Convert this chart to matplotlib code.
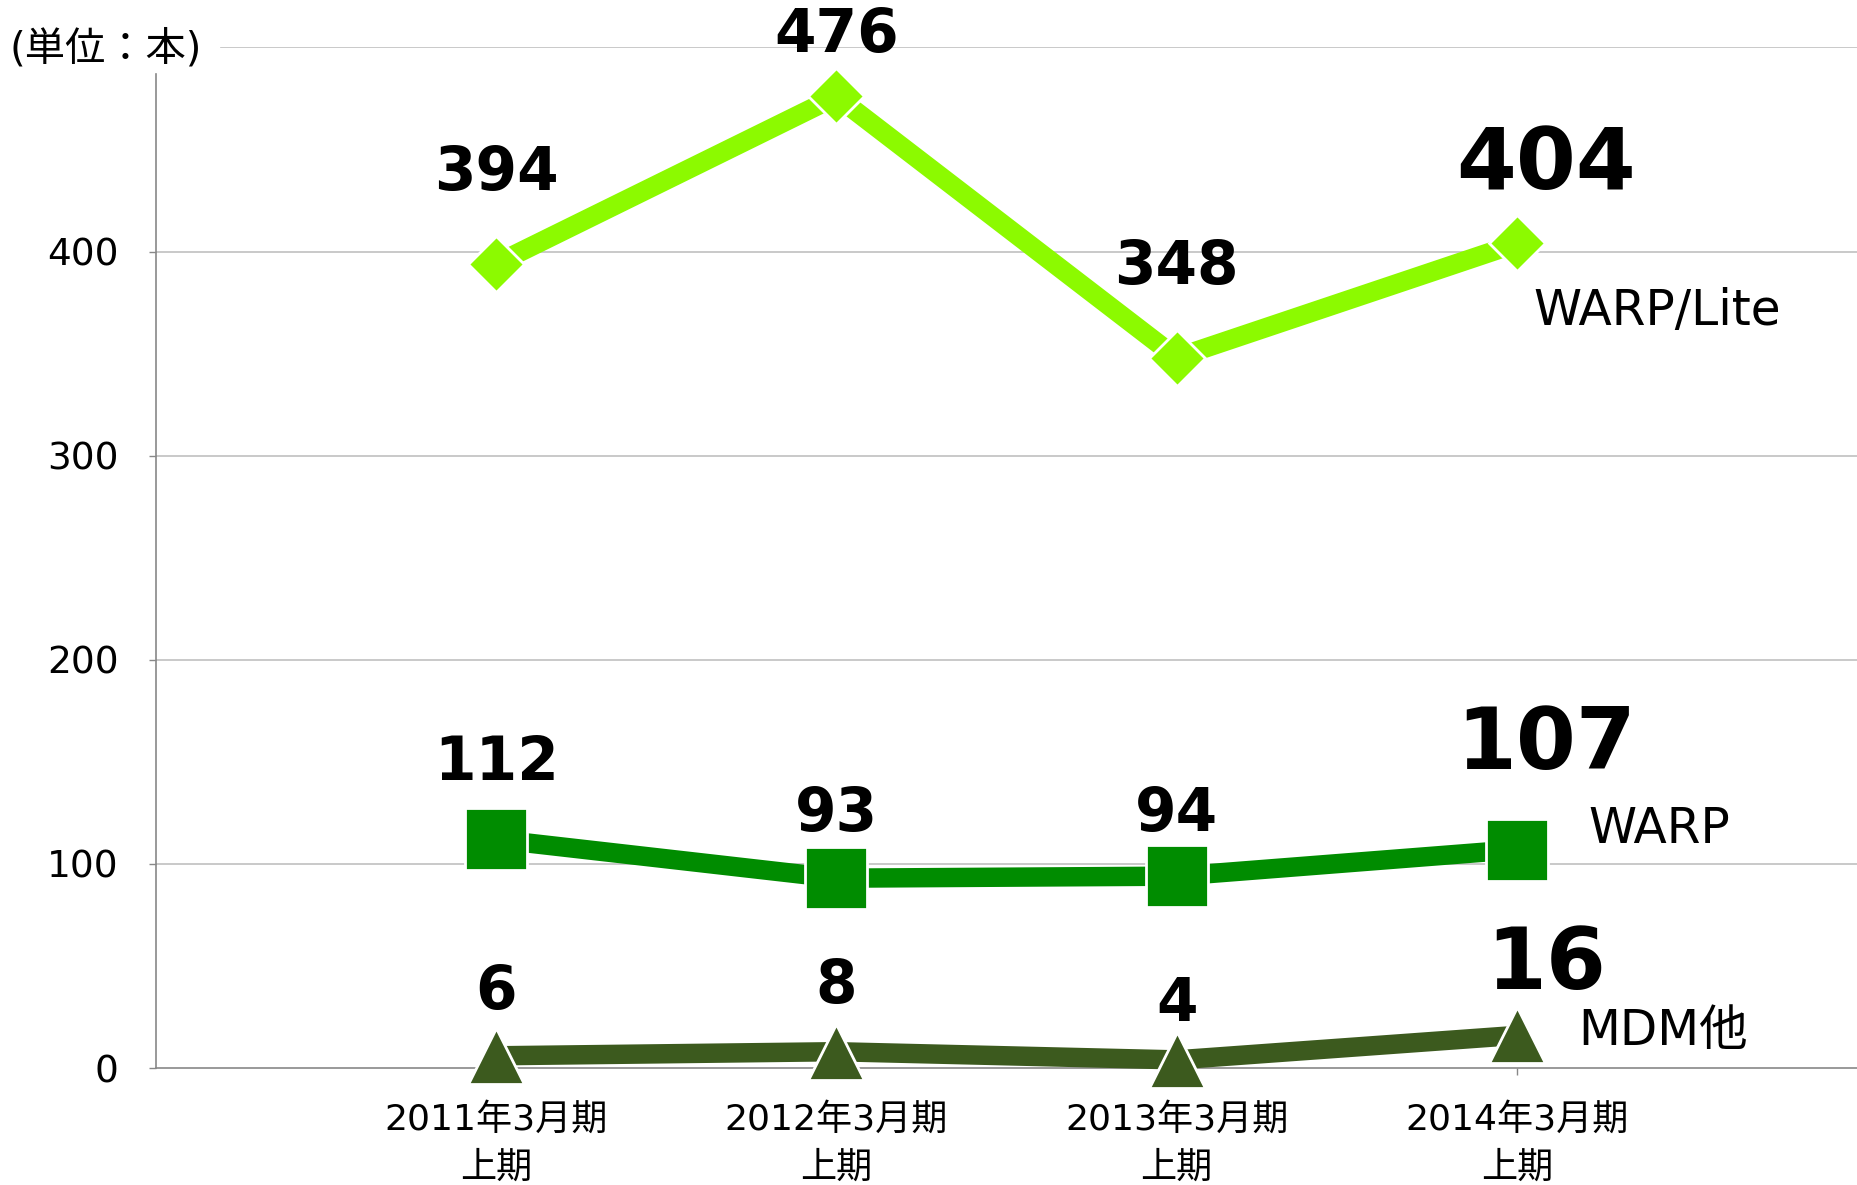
import numpy as np
import matplotlib.pyplot as plt

plt.rcParams['font.family'] = ['DejaVu Sans', 'Noto Sans CJK JP']

# data
periods = ['2011年3月期\n上期', '2012年3月期\n上期', '2013年3月期\n上期', '2014年3月期\n上期']
warp_lite = [394, 476, 348, 404]
warp = [112, 93, 94, 107]
mdm = [6, 8, 4, 16]
series_names = ['WARP/Lite', 'WARP', 'MDM他']
y_ticks = [0, 100, 200, 300, 400]

# styles
col_lite = '#8CFA00'
col_warp = '#008C00'
col_mdm = '#3C5A1E'

fig = plt.figure(figsize=(18.57, 11.85), dpi=100)
ax = fig.add_axes([0.084, 0.0987, 0.916, 0.8613])

x = np.arange(len(periods))

# grid lines (top one shifted right to leave room for the unit label)
for yv in y_ticks[1:]:
    ax.axhline(yv, color='#C0C0C0', lw=1.2, zorder=0)
ax.axhline(500, xmin=0.038, color='#C0C0C0', lw=1.2, zorder=0)

ax.plot(x, warp_lite, color=col_lite, lw=14, marker='D', ms=29,
        mfc=col_lite, mec='white', mew=2, zorder=3, clip_on=False)
ax.plot(x, warp, color=col_warp, lw=14, marker='s', ms=44,
        mfc=col_warp, mec='white', mew=2, zorder=3, clip_on=False)
ax.plot(x, mdm, color=col_mdm, lw=14, marker='^', ms=40,
        mfc=col_mdm, mec='white', mew=2, zorder=3, clip_on=False)

# value labels: offsets above the marker (data units), last period larger
lite_off = [44, 30, 44, 38]
warp_off = [37, 31, 30, 51]
mdm_off = [31, 32, 27, 34]
for vals, offs in [(warp_lite, lite_off), (warp, warp_off), (mdm, mdm_off)]:
    for i, (v, o) in enumerate(zip(vals, offs)):
        big = i == len(vals) - 1
        ax.text(x[i] + (0.085 if big else 0), v + o, str(v),
                fontweight='bold',
                fontsize=62 if big else 43, ha='center', va='center', zorder=5)

# series names
ax.text(3.05, 371, series_names[0], fontsize=35, ha='left', va='center')
ax.text(3.21, 117, series_names[1], fontsize=35, ha='left', va='center')
ax.text(3.18, 18, series_names[2], fontsize=35, ha='left', va='center')

ax.set_xlim(-1, 4)
ax.set_ylim(0, 500)
ax.set_xticks(x)
ax.set_xticklabels(periods, fontsize=26, linespacing=1.5)
ax.set_yticks(y_ticks)
ax.set_yticklabels([str(v) for v in y_ticks], fontsize=27)
ax.tick_params(axis='x', length=5, width=1, color='#888888', pad=20)
ax.tick_params(axis='y', length=5, width=1, color='#888888', pad=22)

for s in ['top', 'right', 'left']:
    ax.spines[s].set_visible(False)
ax.spines['bottom'].set_color('#888888')
ax.spines['bottom'].set_linewidth(1.2)
ax.axvline(-1, ymin=0, ymax=0.974, color='#888888', lw=1.2, clip_on=False)

fig.text(0.005, 0.958, '(単位：本)', fontsize=29, ha='left', va='center')

fig.savefig('out.png', dpi=100)
